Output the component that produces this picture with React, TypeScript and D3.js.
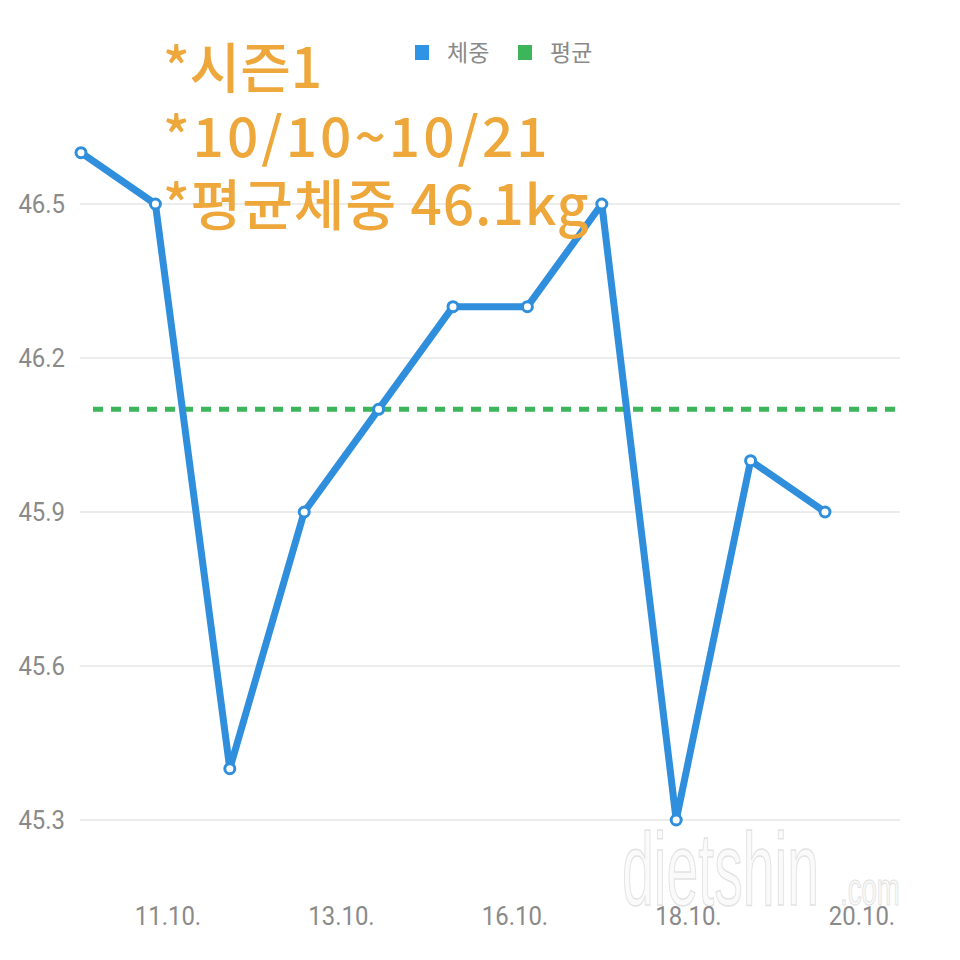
import React from "react";
import * as d3 from "d3";

const weights = [46.6, 46.5, 45.4, 45.9, 46.1, 46.3, 46.3, 46.5, 45.3, 46.0, 45.9];
const average = 46.1;
const yTicks = [45.3, 45.6, 45.9, 46.2, 46.5];
const xLabels = ["11.10.", "13.10.", "16.10.", "18.10.", "20.10."];
const titleLines = ["*시즌1", "*10/10~10/21", "*평균체중 46.1kg"];
const legendItems = [
  { name: "체중", color: "#2F93E6" },
  { name: "평균", color: "#3DB55A" },
];

export default function App() {
  const W = 960, H = 960;
  const x = d3.scaleLinear().domain([0, weights.length - 1]).range([81, 825]);
  const y = d3.scaleLinear().domain([45.3, 46.5]).range([820, 204]);
  const xl = d3.scalePoint<string>().domain(xLabels).range([168, 862]);
  const line = d3.line<number>().x((_, i) => x(i)).y((d) => y(d));
  const font = "Roboto, 'Noto Sans CJK KR', sans-serif";

  return (
    <svg width={W} height={H} style={{ position: "absolute", left: 0, top: 0, background: "#fff" }}>
      <rect width={W} height={H} fill="#fff" />
      {/* watermark */}
      <g transform="translate(622,905) scale(0.55,1)">
        <text x={0} y={0} fontFamily="'Liberation Sans', sans-serif" fontSize={104}
          fill="#fafafa" stroke="#e2e2e2" strokeWidth={1.5}>
          dietshin
        </text>
      </g>
      <g transform="translate(840,905) scale(0.6,1)">
        <text x={0} y={0} fontFamily="'Liberation Sans', sans-serif" fontSize={46}
          fill="#fafafa" stroke="#e2e2e2" strokeWidth={1.2}>
          .com
        </text>
      </g>
      {/* gridlines */}
      {yTicks.map((t) => (
        <g key={t}>
          <line x1={80} x2={900} y1={y(t)} y2={y(t)} stroke="#e6e6e6" strokeWidth={1.5} />
          <text x={65} y={y(t)} dy="0.36em" textAnchor="end" fontFamily={font} fontSize={26}
            fill="#8a8a8a" transform={`translate(65,0) scale(0.92,1) translate(-65,0)`}>
            {t.toFixed(1)}
          </text>
        </g>
      ))}
      {/* x labels */}
      {xLabels.map((l) => (
        <g key={l} transform={`translate(${xl(l)},925) scale(0.92,1)`}>
          <text x={0} y={0} textAnchor="middle" fontFamily={font} fontSize={26} fill="#8a8a8a">
            {l}
          </text>
        </g>
      ))}
      {/* average line */}
      <line x1={93} x2={900} y1={y(average)} y2={y(average)} stroke="#3DB55A" strokeWidth={5} strokeDasharray="10 8" />
      {/* weight line */}
      <path d={line(weights) || ""} fill="none" stroke="#2F8FDD" strokeWidth={7} strokeLinejoin="round" />
      {weights.map((w, i) => (
        <circle key={i} cx={x(i)} cy={y(w)} r={5} fill="#fff" stroke="#2F8FDD" strokeWidth={3} />
      ))}
      {/* legend */}
      {legendItems.map((it, i) => (
        <g key={it.name} transform={`translate(${415 + i * 103},45)`}>
          <rect width={14} height={15} fill={it.color} />
          <text x={32} y={8} dy="0.36em" fontFamily={font} fontSize={23} fill="#8a8a8a">{it.name}</text>
        </g>
      ))}
      {/* title overlay */}
      {titleLines.map((t, i) => (
        <text key={i} x={163} y={[88, 157, 225][i]} fontFamily="'Noto Sans CJK KR', Roboto, sans-serif"
          fontWeight={500} fontSize={55} letterSpacing={[0, 3, 1][i]} fill="#EDA73A">
          {t}
        </text>
      ))}
    </svg>
  );
}
